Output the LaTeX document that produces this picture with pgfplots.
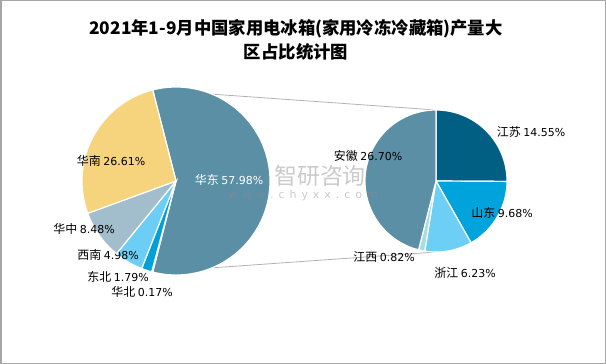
\documentclass[border=0pt]{standalone}
\usepackage{pgfplots}
\pgfplotsset{compat=1.18}
\usepackage{pgfplotstable}
\usepackage{fontspec}
\setmainfont{Noto Sans CJK SC}
\newfontfamily\numfont{DejaVu Sans}
\newcommand\lblfont{\fontsize{12}{13}\selectfont}
\newcommand\numsize{\fontsize{11}{13}\selectfont}

\definecolor{cHD}{HTML}{5B8FA6}
\definecolor{cHN}{HTML}{F6D47D}
\definecolor{cHZ}{HTML}{A2BDCC}
\definecolor{cXN}{HTML}{6DCEF5}
\definecolor{cDB}{HTML}{00A1DA}
\definecolor{cHB}{HTML}{005F83}
\definecolor{cJS}{HTML}{005F83}
\definecolor{cSD}{HTML}{00A3DC}
\definecolor{cZJ}{HTML}{6DCFF6}
\definecolor{cJX}{HTML}{A7DCE0}
\definecolor{cAH}{HTML}{5B8FA6}

% left pie: regions (clockwise, starting with the exploded one)
\pgfplotstableread[col sep=comma]{
name,value,col,lx,ly,tc
华东,57.98,cHD,229,180,white
华北,0.17,cHB,142,292,black
东北,1.79,cDB,118,277,black
西南,4.98,cXN,108,255,black
华中,8.48,cHZ,84,229,black
华南,26.61,cHN,111,161,black
}\lefttab

% right pie: breakdown of 华东 (clockwise from top)
\pgfplotstableread[col sep=comma]{
name,value,col,lx,ly,tc
江苏,14.55,cJS,531,132,black
山东,9.68,cSD,502,213,black
浙江,6.23,cZJ,465,273,black
江西,0.82,cJX,384,257,black
安徽,26.70,cAH,368,156,black
}\righttab

\begin{document}
\begin{tikzpicture}
\begin{axis}[
  width=606bp, height=364bp, scale only axis,
  xmin=0, xmax=606, ymin=0, ymax=364, y dir=reverse,
  hide axis, clip=false,
]
\path (axis cs:0,0) rectangle (axis cs:606,364);
\draw[color=black!35, line width=1.5bp] (axis cs:0.75,0.75) rectangle (axis cs:605.25,363.25);

% title
\node[align=center, font=\fontsize{17.4}{24}\selectfont\bfseries, inner sep=0pt] at (axis cs:296,40)
  {2021年1-9月中国家用电冰箱(家用冷冻冷藏箱)产量大\\区占比统计图};

% geometry
\def\cxA{176}\def\cyA{181}\def\rA{94}
\def\cxB{436}\def\cyB{181}\def\rB{71}

% connector lines
\pgfplotstablegetelem{0}{value}\of\lefttab
\pgfmathsetmacro\half{\pgfplotsretval*1.8}
\pgfmathsetmacro\pxA{\cxA+\rA*cos(\half)}
\pgfmathsetmacro\pyA{\cyA-\rA*sin(\half)}
\pgfmathsetmacro\pyAb{\cyA+\rA*sin(\half)}
\pgfmathsetmacro\pyBt{\cyB-\rB}
\pgfmathsetmacro\pyBb{\cyB+\rB}
\edef\tmp{\noexpand\addplot[color=black!30, line width=0.8pt, mark=none] coordinates {(\pxA,\pyA) (\cxB,\pyBt)};
  \noexpand\addplot[color=black!30, line width=0.8pt, mark=none] coordinates {(\pxA,\pyAb) (\cxB,\pyBb)};}
\tmp

% left pie
\pgfplotstablegetrowsof{\lefttab}
\pgfmathtruncatemacro\lastA{\pgfplotsretval-1}
\let\ang\half
\pgfplotsforeachungrouped \i in {0,...,\lastA}{%
  \pgfplotstablegetelem{\i}{value}\of\lefttab \let\val\pgfplotsretval
  \pgfplotstablegetelem{\i}{name}\of\lefttab \let\nm\pgfplotsretval
  \pgfplotstablegetelem{\i}{col}\of\lefttab \let\cl\pgfplotsretval
  \pgfplotstablegetelem{\i}{lx}\of\lefttab \let\lx\pgfplotsretval
  \pgfplotstablegetelem{\i}{ly}\of\lefttab \let\ly\pgfplotsretval
  \pgfplotstablegetelem{\i}{tc}\of\lefttab \let\tc\pgfplotsretval
  \pgfmathsetmacro\endang{\ang-\val*3.6}
  \edef\tmp{\noexpand\addplot[fill=\cl, draw=white, line width=1.2pt, domain=\endang:\ang, samples=100, mark=none]
     ({\cxA+\rA*cos(x)},{\cyA-\rA*sin(x)}) -- (axis cs:\cxA,\cyA) -- cycle;
     \noexpand\node[font=\noexpand\lblfont, text=\tc, inner sep=0pt] at (axis cs:\lx,\ly) {\nm\noexpand\ {\noexpand\numfont\noexpand\numsize\val\noexpand\%}};}
  \tmp
  \let\ang\endang
}

% right pie
\pgfplotstablegetrowsof{\righttab}
\pgfmathtruncatemacro\lastB{\pgfplotsretval-1}
\def\tot{0}
\pgfplotsforeachungrouped \i in {0,...,\lastB}{%
  \pgfplotstablegetelem{\i}{value}\of\righttab
  \pgfmathsetmacro\tot{\tot+\pgfplotsretval}
}
\def\ang{90}
\pgfplotsforeachungrouped \i in {0,...,\lastB}{%
  \pgfplotstablegetelem{\i}{value}\of\righttab \let\val\pgfplotsretval
  \pgfplotstablegetelem{\i}{name}\of\righttab \let\nm\pgfplotsretval
  \pgfplotstablegetelem{\i}{col}\of\righttab \let\cl\pgfplotsretval
  \pgfplotstablegetelem{\i}{lx}\of\righttab \let\lx\pgfplotsretval
  \pgfplotstablegetelem{\i}{ly}\of\righttab \let\ly\pgfplotsretval
  \pgfplotstablegetelem{\i}{tc}\of\righttab \let\tc\pgfplotsretval
  \pgfmathsetmacro\endang{\ang-\val/\tot*360}
  \edef\tmp{\noexpand\addplot[fill=\cl, draw=white, line width=1.2pt, domain=\endang:\ang, samples=100, mark=none]
     ({\cxB+\rB*cos(x)},{\cyB-\rB*sin(x)}) -- (axis cs:\cxB,\cyB) -- cycle;
     \noexpand\node[font=\noexpand\lblfont, text=\tc, inner sep=0pt] at (axis cs:\lx,\ly) {\nm\noexpand\ {\noexpand\numfont\noexpand\numsize\val\noexpand\%}};}
  \tmp
  \let\ang\endang
}

% watermark (semi-transparent, on top)
\node[text=black!45, opacity=0.45, inner sep=0pt, font=\fontsize{23}{23}\selectfont] at (axis cs:320,176) {智研咨询};
\node[text=black!45, opacity=0.45, inner sep=0pt, font=\numfont\fontsize{11}{11}\selectfont] at (axis cs:303,195)
  {w\hspace{5bp}w\hspace{5bp}w\hspace{5bp}.\hspace{5bp}c\hspace{5bp}h\hspace{5bp}y\hspace{5bp}x\hspace{5bp}x\hspace{5bp}.\hspace{5bp}c\hspace{5bp}o\hspace{5bp}m};
\end{axis}
\end{tikzpicture}
\end{document}
